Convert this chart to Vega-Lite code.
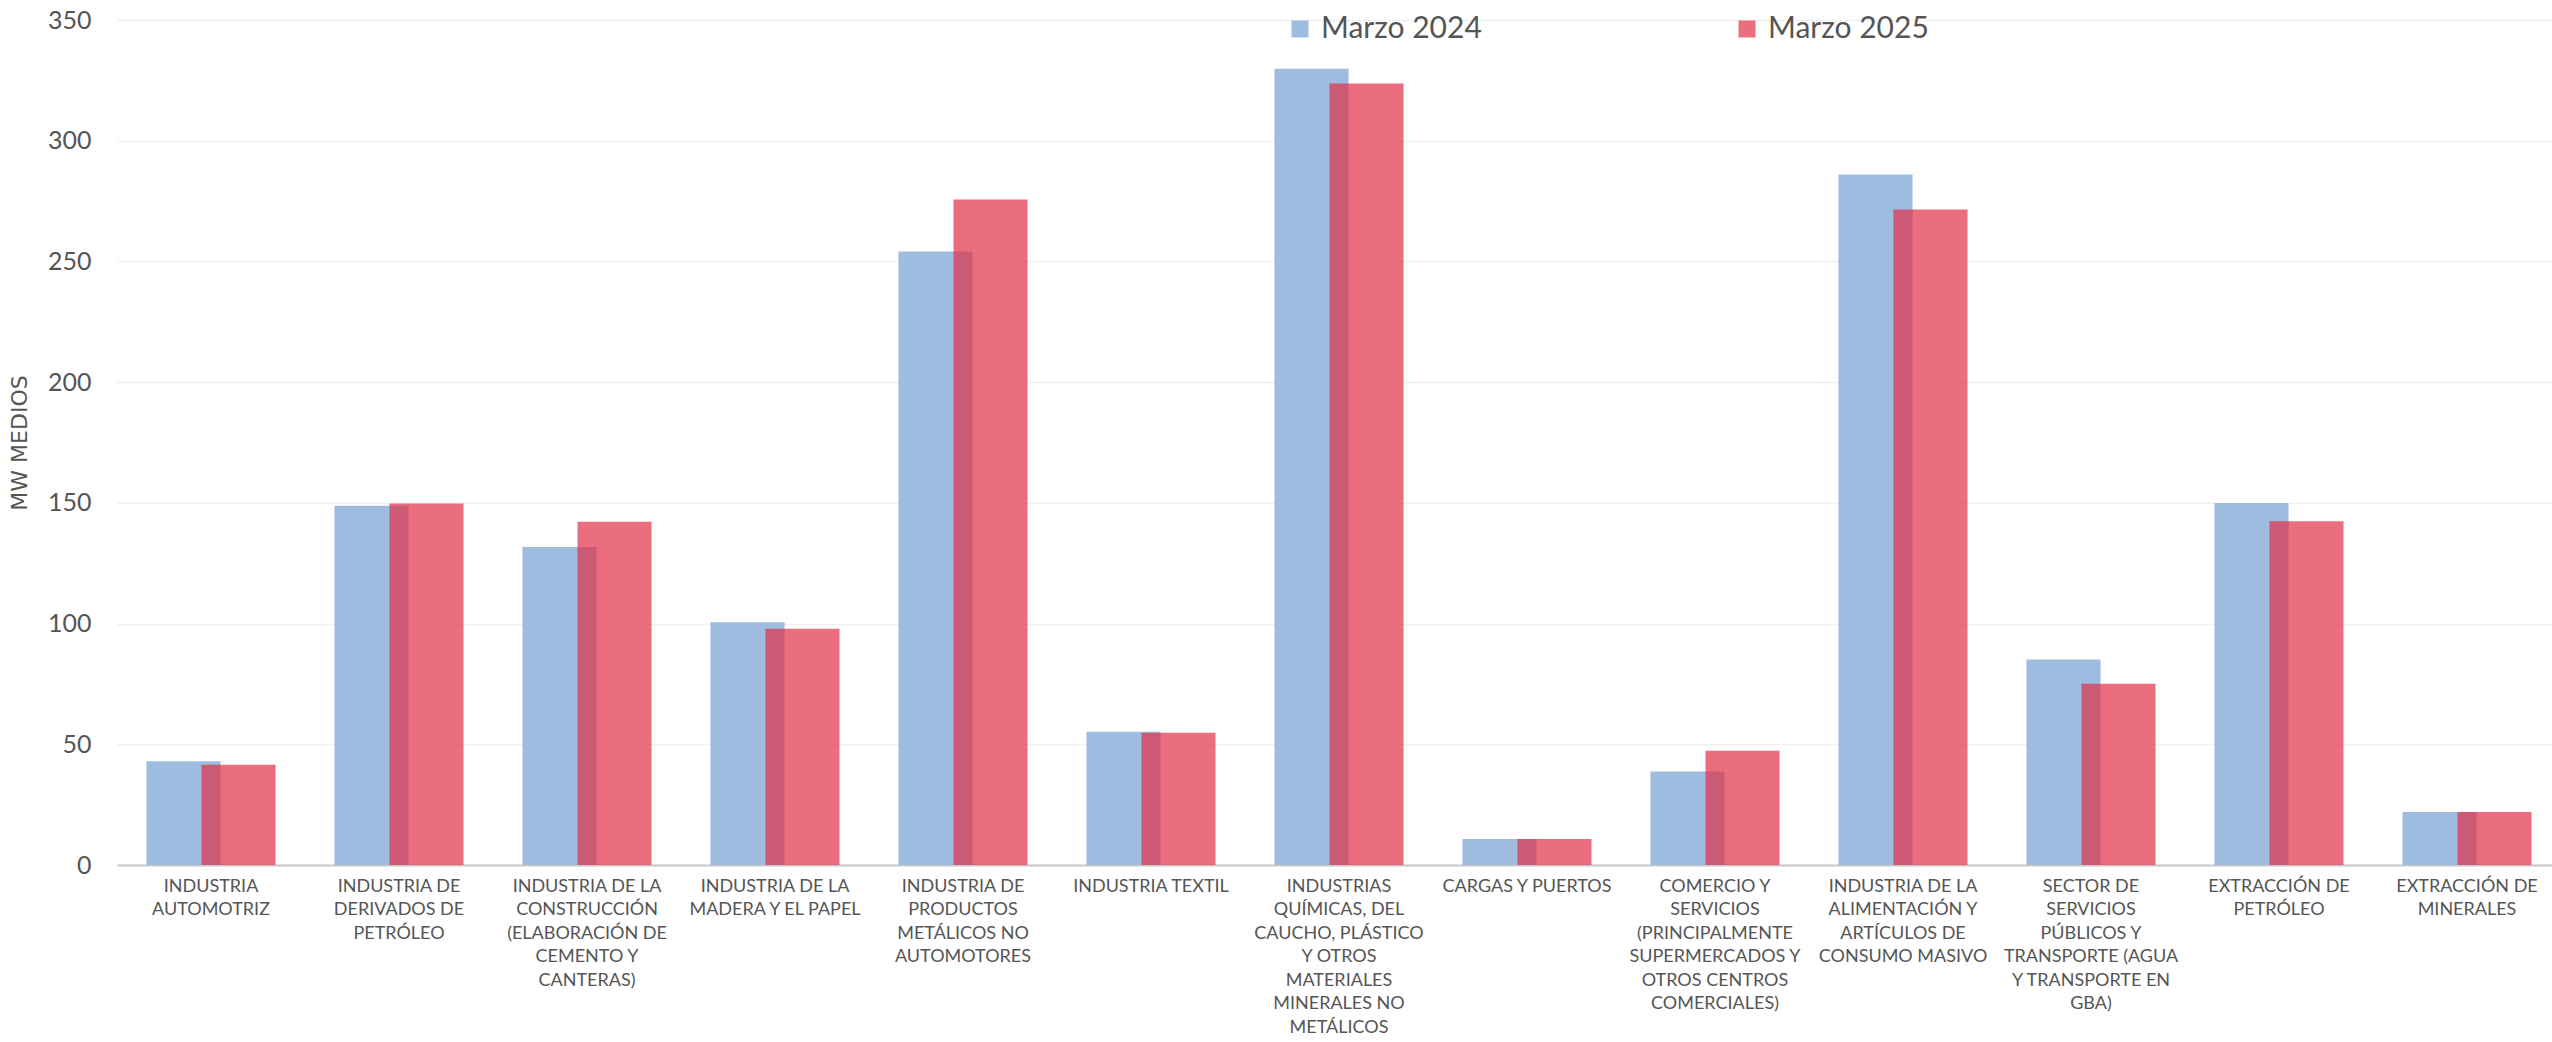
{
  "$schema": "https://vega.github.io/schema/vega-lite/v6.json",
  "width": 2444,
  "height": 845,
  "autosize": {"type": "none"},
  "padding": {"left": 117, "top": 20, "right": 0, "bottom": 177},
  "background": "white",
  "config": {"view": {"stroke": null}, "font": "Lato"},
  "data": {
    "values": [
      {"sector": "INDUSTRIA|AUTOMOTRIZ", "periodo": "Marzo 2024", "mw": 43.0},
      {"sector": "INDUSTRIA|AUTOMOTRIZ", "periodo": "Marzo 2025", "mw": 41.5},
      {"sector": "INDUSTRIA DE|DERIVADOS DE|PETRÓLEO", "periodo": "Marzo 2024", "mw": 148.8},
      {"sector": "INDUSTRIA DE|DERIVADOS DE|PETRÓLEO", "periodo": "Marzo 2025", "mw": 149.7},
      {"sector": "INDUSTRIA DE LA|CONSTRUCCIÓN|(ELABORACIÓN DE|CEMENTO Y|CANTERAS)", "periodo": "Marzo 2024", "mw": 131.7},
      {"sector": "INDUSTRIA DE LA|CONSTRUCCIÓN|(ELABORACIÓN DE|CEMENTO Y|CANTERAS)", "periodo": "Marzo 2025", "mw": 142.2},
      {"sector": "INDUSTRIA DE LA|MADERA Y EL PAPEL", "periodo": "Marzo 2024", "mw": 100.5},
      {"sector": "INDUSTRIA DE LA|MADERA Y EL PAPEL", "periodo": "Marzo 2025", "mw": 97.9},
      {"sector": "INDUSTRIA DE|PRODUCTOS|METÁLICOS NO|AUTOMOTORES", "periodo": "Marzo 2024", "mw": 254.1},
      {"sector": "INDUSTRIA DE|PRODUCTOS|METÁLICOS NO|AUTOMOTORES", "periodo": "Marzo 2025", "mw": 275.6},
      {"sector": "INDUSTRIA TEXTIL", "periodo": "Marzo 2024", "mw": 55.2},
      {"sector": "INDUSTRIA TEXTIL", "periodo": "Marzo 2025", "mw": 54.8},
      {"sector": "INDUSTRIAS|QUÍMICAS, DEL|CAUCHO, PLÁSTICO|Y OTROS|MATERIALES|MINERALES NO|METÁLICOS", "periodo": "Marzo 2024", "mw": 329.8},
      {"sector": "INDUSTRIAS|QUÍMICAS, DEL|CAUCHO, PLÁSTICO|Y OTROS|MATERIALES|MINERALES NO|METÁLICOS", "periodo": "Marzo 2025", "mw": 323.7},
      {"sector": "CARGAS Y PUERTOS", "periodo": "Marzo 2024", "mw": 10.8},
      {"sector": "CARGAS Y PUERTOS", "periodo": "Marzo 2025", "mw": 10.8},
      {"sector": "COMERCIO Y|SERVICIOS|(PRINCIPALMENTE|SUPERMERCADOS Y|OTROS CENTROS|COMERCIALES)", "periodo": "Marzo 2024", "mw": 38.7},
      {"sector": "COMERCIO Y|SERVICIOS|(PRINCIPALMENTE|SUPERMERCADOS Y|OTROS CENTROS|COMERCIALES)", "periodo": "Marzo 2025", "mw": 47.3},
      {"sector": "INDUSTRIA DE LA|ALIMENTACIÓN Y|ARTÍCULOS DE|CONSUMO MASIVO", "periodo": "Marzo 2024", "mw": 286.0},
      {"sector": "INDUSTRIA DE LA|ALIMENTACIÓN Y|ARTÍCULOS DE|CONSUMO MASIVO", "periodo": "Marzo 2025", "mw": 271.5},
      {"sector": "SECTOR DE|SERVICIOS|PÚBLICOS Y|TRANSPORTE (AGUA|Y TRANSPORTE EN|GBA)", "periodo": "Marzo 2024", "mw": 85.1},
      {"sector": "SECTOR DE|SERVICIOS|PÚBLICOS Y|TRANSPORTE (AGUA|Y TRANSPORTE EN|GBA)", "periodo": "Marzo 2025", "mw": 75.1},
      {"sector": "EXTRACCIÓN DE|PETRÓLEO", "periodo": "Marzo 2024", "mw": 149.9},
      {"sector": "EXTRACCIÓN DE|PETRÓLEO", "periodo": "Marzo 2025", "mw": 142.4},
      {"sector": "EXTRACCIÓN DE|MINERALES", "periodo": "Marzo 2024", "mw": 22.0},
      {"sector": "EXTRACCIÓN DE|MINERALES", "periodo": "Marzo 2025", "mw": 22.0}
    ]
  },
  "encoding": {
    "x": {
      "field": "sector",
      "type": "nominal",
      "sort": null,
      "scale": {"paddingInner": 0, "paddingOuter": 0},
      "axis": {
        "title": null,
        "labelExpr": "split(datum.label, '|')",
        "labelAngle": 0,
        "labelAlign": "center",
        "labelBaseline": "top",
        "labelFontSize": 18,
        "labelColor": "#555555",
        "labelLineHeight": 23.5,
        "labelPadding": 12,
        "labelLimit": 400,
        "labelOverlap": false,
        "ticks": false,
        "grid": false,
        "domainColor": "#c8c8c8",
        "domainWidth": 2
      }
    },
    "y": {
      "field": "mw",
      "type": "quantitative",
      "scale": {"domain": [0, 350]},
      "axis": {
        "title": "MW MEDIOS",
        "titleFont": "DejaVu Sans",
        "titleFontSize": 22,
        "titleFontWeight": "normal",
        "titleColor": "#555555",
        "titlePadding": 16,
        "values": [0, 50, 100, 150, 200, 250, 300, 350],
        "labelFontSize": 25,
        "labelColor": "#555555",
        "labelPadding": 26,
        "domain": false,
        "ticks": false,
        "gridColor": "#f0f0f0",
        "gridWidth": 1.5
      }
    },
    "color": {
      "field": "periodo",
      "type": "nominal",
      "scale": {
        "domain": ["Marzo 2024", "Marzo 2025"],
        "range": ["#9EBBE0", "rgba(225,49,71,0.7)"]
      },
      "legend": {
        "title": null,
        "orient": "none",
        "legendX": 1168,
        "legendY": -6,
        "direction": "horizontal",
        "labelFontSize": 30,
        "labelColor": "#555555",
        "labelLimit": 400,
        "symbolType": "square",
        "symbolSize": 289,
        "symbolStrokeWidth": 0,
        "labelOffset": 6,
        "columnPadding": 250,
        "padding": 0
      }
    }
  },
  "layer": [
    {
      "transform": [{"filter": "datum.periodo === 'Marzo 2024'"}],
      "mark": {"type": "bar", "width": {"band": 0.394}, "xOffset": -27.5}
    },
    {
      "transform": [{"filter": "datum.periodo === 'Marzo 2025'"}],
      "mark": {"type": "bar", "width": {"band": 0.394}, "xOffset": 27.5}
    }
  ]
}
